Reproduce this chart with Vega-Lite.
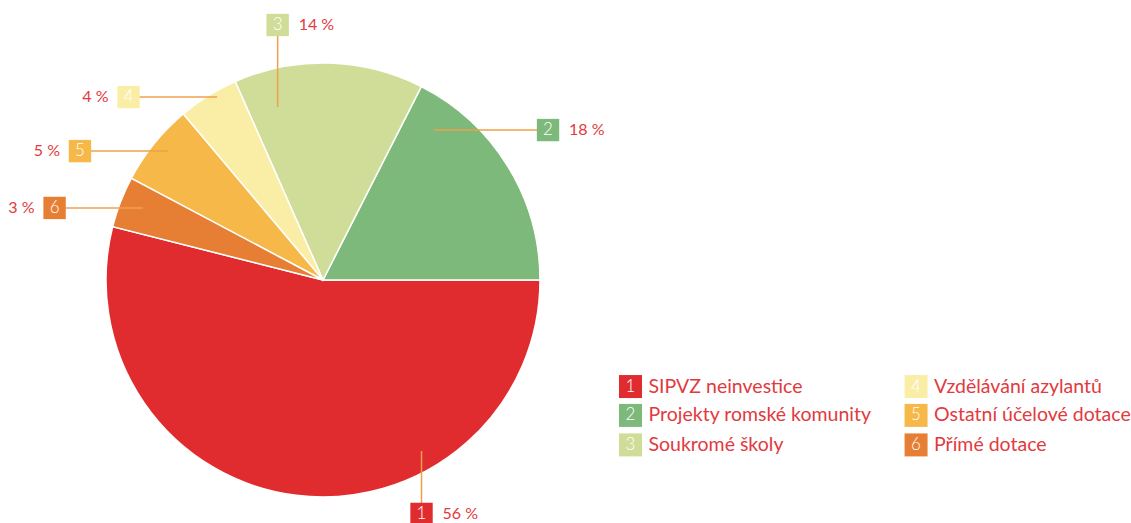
{
  "$schema": "https://vega.github.io/schema/vega-lite/v6.json",
  "width": 1131,
  "height": 523,
  "autosize": {"type": "none"},
  "padding": 0,
  "background": "white",
  "config": {"view": {"stroke": null}, "axis": {"disable": true}, "text": {"font": "Lato", "fontWeight": 400}},
  "datasets": {
    "cats": [
      {"id": "1", "name": "SIPVZ neinvestice", "value": 53.9, "pct": "56 %", "ax": 45.4, "ay": -78.8, "bx": 45.4, "by": -107.8, "side": "R", "lx": 141.7, "ly": -49.1},
      {"id": "2", "name": "Projekty romské komunity", "value": 17.5, "pct": "18 %", "ax": 51.2, "ay": 69.1, "bx": 103.7, "by": 69.1, "side": "R", "lx": 141.7, "ly": -62.4},
      {"id": "3", "name": "Soukromé školy", "value": 14.1, "pct": "14 %", "ax": -20.9, "ay": 79.7, "bx": -20.9, "by": 117.5, "side": "R", "lx": 141.7, "ly": -76.0},
      {"id": "4", "name": "Vzdělávání azylantů", "value": 4.5, "pct": "4 %", "ax": -48.8, "ay": 84.3, "bx": -89.6, "by": 84.3, "side": "L", "lx": 273.3, "ly": -49.1},
      {"id": "5", "name": "Ostatní účelové dotace", "value": 6.1, "pct": "5 %", "ax": -71.4, "ay": 59.4, "bx": -112.0, "by": 59.4, "side": "L", "lx": 273.3, "ly": -62.4},
      {"id": "6", "name": "Přímé dotace", "value": 3.8, "pct": "3 %", "ax": -82.9, "ay": 33.2, "bx": -123.7, "by": 33.2, "side": "L", "lx": 273.3, "ly": -76.0}
    ]
  },
  "data": {"name": "cats"},
  "layer": [
    {
      "mark": {"type": "arc", "outerRadius": 217, "stroke": "#ffffff", "strokeWidth": 1.5},
      "encoding": {
        "x": {"datum": 0, "type": "quantitative", "scale": {"domain": [-148.85, 372.35], "nice": false, "zero": false}},
        "y": {"datum": 0, "type": "quantitative", "scale": {"domain": [-111.98, 129.03], "nice": false, "zero": false}},
        "theta": {"field": "value", "type": "quantitative", "stack": true, "scale": {"range": [-1.3224, 4.9608]}},
        "order": {"field": "id", "type": "ordinal", "sort": "descending"},
        "color": {"field": "id", "type": "nominal", "legend": null, "scale": {"domain": ["1", "2", "3", "4", "5", "6"], "range": ["#e02c2f", "#7cb97a", "#cfdd98", "#faeea6", "#f6b849", "#e67e34"]}}
      }
    },
    {
      "mark": {"type": "rule", "color": "#f0a04b", "strokeWidth": 1.5},
      "encoding": {
        "x": {"field": "ax", "type": "quantitative", "scale": {"domain": [-148.85, 372.35], "nice": false, "zero": false}},
        "y": {"field": "ay", "type": "quantitative", "scale": {"domain": [-111.98, 129.03], "nice": false, "zero": false}},
        "x2": {"field": "bx"},
        "y2": {"field": "by"}
      }
    },
    {
      "mark": {"type": "point", "shape": "square", "filled": true, "size": 500, "opacity": 1},
      "encoding": {
        "x": {"field": "bx", "type": "quantitative", "scale": {"domain": [-148.85, 372.35], "nice": false, "zero": false}},
        "y": {"field": "by", "type": "quantitative", "scale": {"domain": [-111.98, 129.03], "nice": false, "zero": false}},
        "color": {"field": "id", "type": "nominal", "legend": null}
      }
    },
    {
      "mark": {"type": "text", "color": "#ffffff", "fontSize": 17, "fontWeight": 300, "align": "center", "baseline": "middle"},
      "encoding": {
        "x": {"field": "bx", "type": "quantitative", "scale": {"domain": [-148.85, 372.35], "nice": false, "zero": false}},
        "y": {"field": "by", "type": "quantitative", "scale": {"domain": [-111.98, 129.03], "nice": false, "zero": false}},
        "text": {"field": "id"}
      }
    },
    {
      "transform": [{"filter": "datum.side === 'R'"}],
      "mark": {"type": "text", "color": "#e23a3e", "fontSize": 16, "align": "left", "baseline": "middle", "dx": 21},
      "encoding": {
        "x": {"field": "bx", "type": "quantitative", "scale": {"domain": [-148.85, 372.35], "nice": false, "zero": false}},
        "y": {"field": "by", "type": "quantitative", "scale": {"domain": [-111.98, 129.03], "nice": false, "zero": false}},
        "text": {"field": "pct"}
      }
    },
    {
      "transform": [{"filter": "datum.side === 'L'"}],
      "mark": {"type": "text", "color": "#e23a3e", "fontSize": 16, "align": "right", "baseline": "middle", "dx": -20},
      "encoding": {
        "x": {"field": "bx", "type": "quantitative", "scale": {"domain": [-148.85, 372.35], "nice": false, "zero": false}},
        "y": {"field": "by", "type": "quantitative", "scale": {"domain": [-111.98, 129.03], "nice": false, "zero": false}},
        "text": {"field": "pct"}
      }
    },
    {
      "mark": {"type": "point", "shape": "square", "filled": true, "size": 529, "opacity": 1},
      "encoding": {
        "x": {"field": "lx", "type": "quantitative", "scale": {"domain": [-148.85, 372.35], "nice": false, "zero": false}},
        "y": {"field": "ly", "type": "quantitative", "scale": {"domain": [-111.98, 129.03], "nice": false, "zero": false}},
        "color": {"field": "id", "type": "nominal", "legend": null}
      }
    },
    {
      "mark": {"type": "text", "color": "#ffffff", "fontSize": 17, "fontWeight": 300, "align": "center", "baseline": "middle"},
      "encoding": {
        "x": {"field": "lx", "type": "quantitative", "scale": {"domain": [-148.85, 372.35], "nice": false, "zero": false}},
        "y": {"field": "ly", "type": "quantitative", "scale": {"domain": [-111.98, 129.03], "nice": false, "zero": false}},
        "text": {"field": "id"}
      }
    },
    {
      "mark": {"type": "text", "color": "#e23a3e", "fontSize": 19.5, "align": "left", "baseline": "middle", "dx": 18},
      "encoding": {
        "x": {"field": "lx", "type": "quantitative", "scale": {"domain": [-148.85, 372.35], "nice": false, "zero": false}},
        "y": {"field": "ly", "type": "quantitative", "scale": {"domain": [-111.98, 129.03], "nice": false, "zero": false}},
        "text": {"field": "name"}
      }
    }
  ]
}
